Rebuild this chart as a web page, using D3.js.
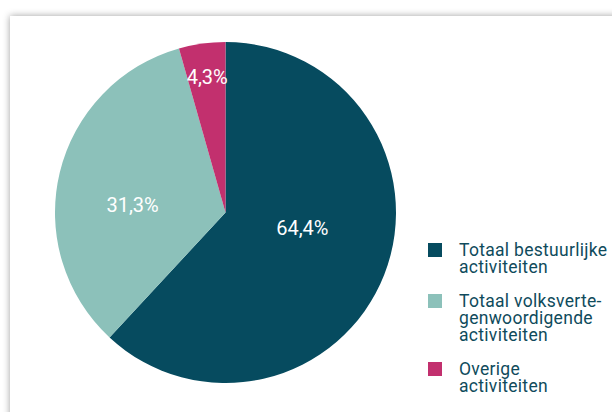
<!DOCTYPE html>
<html><head><meta charset="utf-8">
<script src="https://cdn.jsdelivr.net/npm/d3@7"></script>
<style>
html,body{margin:0;padding:0;background:#fff;width:612px;height:412px;overflow:hidden;}
#card{position:absolute;left:10px;top:16px;width:640px;height:440px;background:#fff;box-shadow:0 0 7px rgba(0,0,0,0.38);}
svg{position:absolute;left:0;top:0;}
</style></head>
<body><div id="card"></div>
<script>
const categories = ["Totaal bestuurlijke activiteiten", "Totaal volksverte-genwoordigende activiteiten", "Overige activiteiten"];
// slice shares as drawn in the picture
const values = [61.9, 33.7, 4.4];
// printed labels
const valueLabels = ["64,4%", "31,3%", "4,3%"];
const legendLines = [["Totaal bestuurlijke", "activiteiten"], ["Totaal volksverte-", "genwoordigende", "activiteiten"], ["Overige", "activiteiten"]];
const colors = ["#064b5f", "#8cc1ba", "#c2306e"];
const labelRadiusFrac = [0.46, 0.547, 0.803];
const labelAngleShiftDeg = [-9.8, -8.7, 0.25];

const W = 612, H = 412;
const svg = d3.select("body").append("svg").attr("width", W).attr("height", H);
const cx = 225.5, cy = 212.5, R = 170.5;
const pie = d3.pie().sort(null).value(d => d)(values);
const arc = d3.arc().innerRadius(0).outerRadius(R);
const g = svg.append("g").attr("transform", `translate(${cx},${cy})`);
g.selectAll("path").data(pie).join("path").attr("d", arc).attr("fill", (d, i) => colors[i]);
g.selectAll("text").data(pie).join("text")
  .attr("transform", (d, i) => {
    const r = R * labelRadiusFrac[i];
    const a = (d.startAngle + d.endAngle) / 2 + labelAngleShiftDeg[i] * Math.PI / 180;
    return `translate(${r * Math.sin(a)},${-r * Math.cos(a)})`;
  })
  .attr("text-anchor", "middle").attr("dy", "0.35em")
  .attr("fill", "#fff").style("font-family", "Roboto, sans-serif").style("font-size", "20px")
  .text((d, i) => valueLabels[i]);

const lg = svg.append("g").attr("transform", "translate(428,243)");
const lineH = 17;
let row = 0;
legendLines.forEach((lines, i) => {
  const y0 = row * lineH;
  lg.append("rect").attr("x", 0).attr("y", y0).attr("width", 14).attr("height", 14).attr("fill", colors[i]);
  const t = lg.append("text").attr("x", 31).attr("y", y0 + 12.8)
    .attr("fill", "#0f4b5c").style("font-family", "Roboto, sans-serif").style("font-size", "17.5px").style("letter-spacing", "0.3px");
  lines.forEach((l, j) => t.append("tspan").attr("x", 31).attr("dy", j === 0 ? 0 : lineH).text(l));
  row += lines.length + 1;
});
</script></body></html>
